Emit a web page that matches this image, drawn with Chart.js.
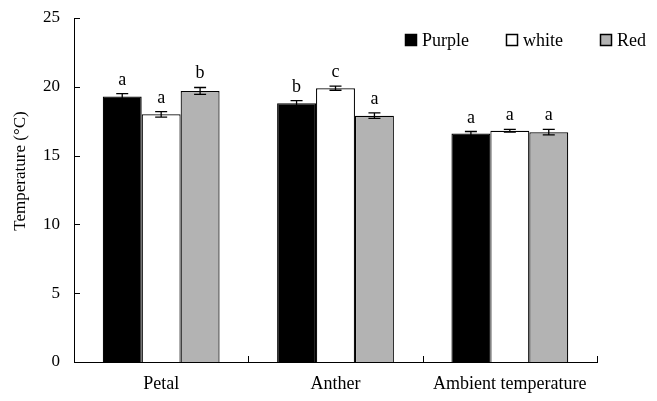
<!DOCTYPE html>
<html><head><meta charset="utf-8">
<script src="https://cdn.jsdelivr.net/npm/chart.js@4"></script>
<style>html,body{margin:0;padding:0;background:#fff}#w{width:657px;height:401px}</style>
</head><body><div id="w"><canvas id="c"></canvas></div>
<script>
const categories = ['Petal', 'Anther', 'Ambient temperature'];
const seriesNames = ['Purple', 'white', 'Red'];
const purple = [19.3, 18.8, 16.6];
const white = [18.0, 19.9, 16.8];
const red = [19.7, 17.9, 16.7];
const purpleErr = [0.2, 0.2, 0.15];
const whiteErr = [0.2, 0.15, 0.1];
const redErr = [0.25, 0.2, 0.2];
const purpleLetters = ['a', 'b', 'a'];
const whiteLetters = ['a', 'c', 'a'];
const redLetters = ['b', 'a', 'a'];
const yTicks = [0, 5, 10, 15, 20, 25];

const FONT = '"Liberation Serif", "Times New Roman", serif';
const fills = ['#000000', '#ffffff', '#b3b3b3'];
const errs = [purpleErr, whiteErr, redErr];
const letters = [purpleLetters, whiteLetters, redLetters];

const extras = {
  id: 'extras',
  afterDatasetsDraw(chart) {
    const ctx = chart.ctx;
    const xs = chart.scales.x, ys = chart.scales.y;
    const ca = chart.chartArea;
    ctx.save();
    ctx.strokeStyle = '#000';
    ctx.lineWidth = 1.3;
    chart.data.datasets.forEach((ds, di) => {
      const meta = chart.getDatasetMeta(di);
      meta.data.forEach((bar, i) => {
        const v = ds.data[i], e = errs[di][i];
        const x = bar.x;
        const yT = ys.getPixelForValue(v + e), yB = ys.getPixelForValue(v - e);
        ctx.beginPath();
        ctx.moveTo(x, yT); ctx.lineTo(x, yB);
        ctx.moveTo(x - 6, yT); ctx.lineTo(x + 6, yT);
        ctx.moveTo(x - 6, yB); ctx.lineTo(x + 6, yB);
        ctx.stroke();
        ctx.fillStyle = '#000';
        ctx.font = '18px ' + FONT;
        ctx.textAlign = 'center';
        ctx.textBaseline = 'alphabetic';
        ctx.fillText(letters[di][i], x, yT - 9);
      });
    });
    ctx.lineWidth = 1;
    yTicks.forEach(t => {
      const y = Math.round(ys.getPixelForValue(t)) + 0.5;
      ctx.beginPath(); ctx.moveTo(ca.left, y); ctx.lineTo(ca.left + 6, y); ctx.stroke();
    });
    for (let i = 0; i < categories.length; i++) {
      const xb = Math.round(xs.getPixelForValue(i) + (xs.getPixelForValue(1) - xs.getPixelForValue(0)) / 2) + 0.5;
      ctx.beginPath(); ctx.moveTo(xb, ca.bottom); ctx.lineTo(xb, ca.bottom - 6); ctx.stroke();
    }
    ctx.save();
    ctx.translate(21, 171);
    ctx.rotate(-Math.PI / 2);
    ctx.font = '17px ' + FONT;
    ctx.textAlign = 'center'; ctx.textBaseline = 'middle';
    ctx.fillStyle = '#000';
    ctx.fillText('Temperature (°C)', 0, 0);
    ctx.restore();
    const lx = [405, 506, 600];
    const ly = 40;
    ctx.font = '18px ' + FONT;
    ctx.textAlign = 'left'; ctx.textBaseline = 'middle';
    seriesNames.forEach((n, k) => {
      ctx.fillStyle = fills[k];
      ctx.fillRect(lx[k] + 0.5, ly - 5.5, 11, 11);
      ctx.strokeStyle = '#000'; ctx.lineWidth = 1.5;
      ctx.strokeRect(lx[k] + 0.5, ly - 5.5, 11, 11);
      ctx.fillStyle = '#000';
      ctx.fillText(n, lx[k] + 17, ly + 1);
    });
    ctx.restore();
  }
};

new Chart(document.getElementById('c'), {
  type: 'bar',
  data: {
    labels: categories,
    datasets: [purple, white, red].map((d, k) => ({
      label: seriesNames[k], data: d,
      backgroundColor: fills[k], borderColor: '#000', borderWidth: 1.2,
      borderSkipped: 'bottom',
      barPercentage: 1.0, categoryPercentage: 0.67
    }))
  },
  options: {
    responsive: true, maintainAspectRatio: false, animation: false,
    layout: { padding: { top: 18, right: 60, left: 0, bottom: 0 } },
    plugins: { legend: { display: false }, tooltip: { enabled: false } },
    scales: {
      x: {
        grid: { display: false },
        border: { display: true, color: '#000', width: 1 },
        ticks: { color: '#000', font: { family: FONT, size: 18 }, padding: 3, maxRotation: 0 },
        afterFit(s) { s.height = 39; }
      },
      y: {
        min: 0, max: 25,
        grid: { display: false },
        border: { display: true, color: '#000', width: 1 },
        ticks: { stepSize: 5, color: '#000', font: { family: FONT, size: 17 }, padding: 6 },
        afterFit(s) { s.width = 74; }
      }
    }
  },
  plugins: [extras]
});
</script></body></html>
